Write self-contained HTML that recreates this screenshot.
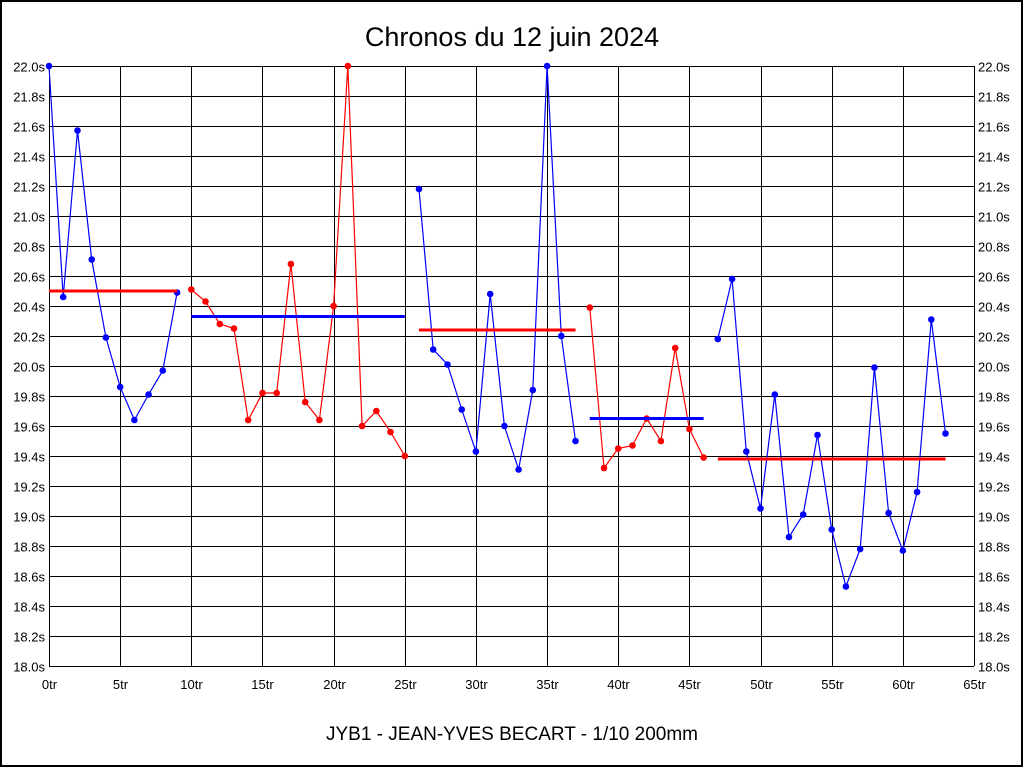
<!DOCTYPE html>
<html><head><meta charset="utf-8"><style>
html,body{margin:0;padding:0;background:#fff}
svg{display:block}
text{font-family:"Liberation Sans",Arial,sans-serif}
</style></head><body>
<svg id="s" width="1024" height="768" xmlns="http://www.w3.org/2000/svg">
<rect x="1" y="1" width="1021" height="765" fill="#fff" stroke="#000" stroke-width="2"/>
<text x="512" y="46" font-size="27" text-anchor="middle">Chronos du 12 juin 2024</text>
<text x="512" y="740" font-size="19" text-anchor="middle">JYB1 - JEAN-YVES BECART - 1/10 200mm</text>
<g id="g"></g>
</svg>
<script>
var g=document.getElementById('g'),h='';
var X0=49,X1=974,Y0=66,Y1=666;
function X(t){return X0+(X1-X0)*t/65}
function Y(v){return Y0+(22-v)*150}
for(var i=0;i<=13;i++){var x=Math.round(X(i*5))+0.5;h+='<line x1="'+x+'" y1="'+Y0+'" x2="'+x+'" y2="'+Y1+'" stroke="#000" stroke-width="1" shape-rendering="crispEdges"/>';
h+='<text x="'+x+'" y="689" font-size="13" text-anchor="middle">'+(i*5)+'tr</text>';}
for(var j=0;j<=20;j++){var v=22-j*0.2,y=Math.round(Y(v))+0.5;h+='<line x1="'+X0+'" y1="'+y+'" x2="'+X1+'" y2="'+y+'" stroke="#000" stroke-width="1" shape-rendering="crispEdges"/>';
var s=v.toFixed(1)+'s';h+='<text x="45" y="'+(y+5)+'" font-size="13" text-anchor="end">'+s+'</text><text x="978" y="'+(y+5)+'" font-size="13">'+s+'</text>';}
var segs=[[0,'#0000ff',[22.0,20.46,21.57,20.71,20.19,19.86,19.64,19.81,19.97,20.49],20.50],
[10,'#ff0000',[20.51,20.43,20.28,20.25,19.64,19.82,19.82,20.68,19.76,19.64,20.40,22.0,19.60,19.70,19.56,19.40],20.33],
[26,'#0000ff',[21.18,20.11,20.01,19.71,19.43,20.48,19.60,19.31,19.84,22.0,20.20,19.50],20.24],
[38,'#ff0000',[20.39,19.32,19.45,19.47,19.65,19.50,20.12,19.58,19.39],19.65],
[47,'#0000ff',[20.18,20.58,19.43,19.05,19.81,18.86,19.01,19.54,18.91,18.53,18.78,19.99,19.02,18.77,19.16,20.31,19.55],19.38]];
var avgc=['#ff0000','#0000ff','#ff0000','#0000ff','#ff0000'];
segs.forEach(function(s,k){var st=s[0],c=s[1],d=s[2],p=[];
d.forEach(function(v,i){p.push(X(st+i).toFixed(1)+','+Y(v).toFixed(1))});
h+='<polyline points="'+p.join(' ')+'" fill="none" stroke="'+c+'" stroke-width="1.2"/>';
d.forEach(function(v,i){h+='<circle cx="'+X(st+i).toFixed(1)+'" cy="'+Y(v).toFixed(1)+'" r="3.3" fill="'+c+'"/>'});
var ay=Y(s[3]).toFixed(1);
h+='<line x1="'+X(st)+'" y1="'+ay+'" x2="'+X(st+d.length-1)+'" y2="'+ay+'" stroke="'+avgc[k]+'" stroke-width="3"/>';});
g.innerHTML=h;
</script>
</body></html>
